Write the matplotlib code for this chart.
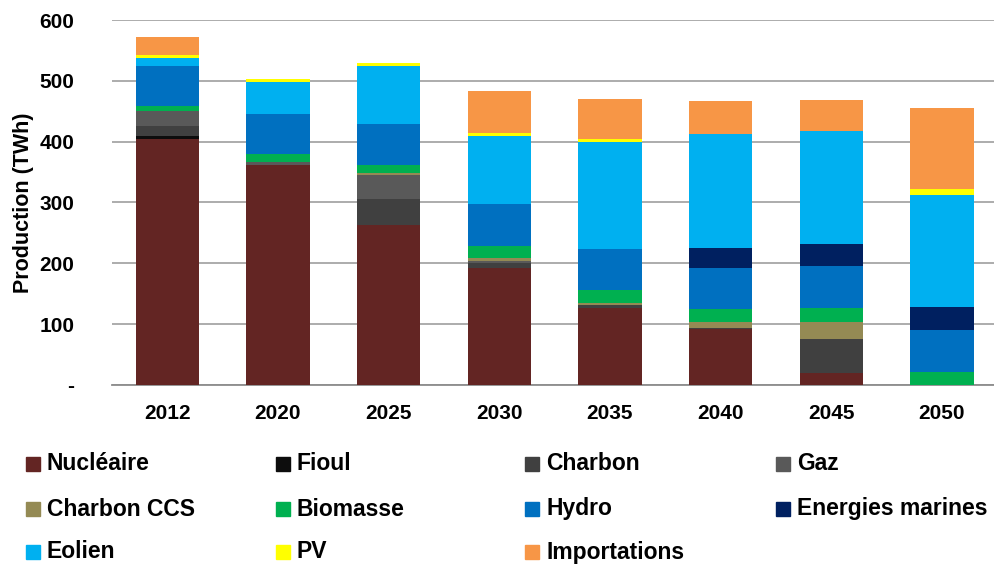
import numpy as np
import matplotlib
matplotlib.use('Agg')
import matplotlib.pyplot as plt
from matplotlib.patches import Rectangle

plt.rcParams['font.family'] = ['Liberation Sans', 'DejaVu Sans']
plt.rcParams['font.weight'] = 'bold'

years = ['2012', '2020', '2025', '2030', '2035', '2040', '2045', '2050']

nucleaire = [405, 361, 263, 193, 127, 92, 19, 0]
fioul = [4, 0, 0, 0, 0, 0, 0, 0]
charbon = [17, 0, 42, 8, 5, 2, 57, 0]
gaz = [25, 6, 40, 3, 0, 0, 0, 0]
charbon_ccs = [0, 0, 3, 4, 3, 10, 27, 0]
biomasse = [7, 13, 13, 21, 21, 21, 24, 22]
hydro = [66, 65, 68, 68, 68, 68, 68, 68]
marines = [0, 0, 0, 0, 0, 33, 37, 38]
eolien = [14, 53, 95, 113, 176, 187, 185, 185]
pv = [4, 5, 6, 5, 5, 0, 0, 9]
importations = [30, 0, 0, 68, 65, 54, 51, 133]

names = ['Nucléaire', 'Fioul', 'Charbon', 'Gaz', 'Charbon CCS', 'Biomasse',
         'Hydro', 'Energies marines', 'Eolien', 'PV', 'Importations']
series = [nucleaire, fioul, charbon, gaz, charbon_ccs, biomasse,
          hydro, marines, eolien, pv, importations]
colors = ['#632523', '#0d0d0d', '#404040', '#595959', '#948a54', '#00b050',
          '#0070c0', '#002060', '#00b0f0', '#ffff00', '#f79646']

yticks = [0, 100, 200, 300, 400, 500, 600]
ytick_labels = ['-', '100', '200', '300', '400', '500', '600']

fig = plt.figure(figsize=(9.94, 5.66), dpi=100)
ax = fig.add_axes([112 / 994, 181 / 566, (994 - 112) / 994, 365 / 566])

x = np.arange(len(years))
bottom = np.zeros(len(years))
for vals, col, name in zip(series, colors, names):
    ax.bar(x, vals, 0.57, bottom=bottom, color=col, label=name, zorder=3)
    bottom += np.array(vals)

ax.set_xlim(-0.5, 7.47)
ax.set_ylim(0, 600)
ax.set_yticks(yticks)
ax.set_yticklabels(ytick_labels)
ax.set_xticks(x)
ax.set_xticklabels(years)
ax.tick_params(axis='y', length=0, pad=27, labelsize=15)
ax.tick_params(axis='x', length=0, pad=14, labelsize=15)
ax.grid(axis='y', color='#a6a6a6', linewidth=1.3, zorder=0)
for s in ['top', 'right', 'left']:
    ax.spines[s].set_visible(False)
ax.spines['bottom'].set_color('#8c8c8c')
ax.spines['bottom'].set_linewidth(1.3)
ax.set_ylabel('Production (TWh)', fontsize=15.5, fontweight='bold', labelpad=4)

# legend laid out as in the original (row-wise, 4 columns)
col_x = [26, 276, 525, 776]
row_y = [464, 509, 552]
for i, (name, col) in enumerate(zip(names, colors)):
    r, c = divmod(i, 4)
    px, py = col_x[c], row_y[r]
    fig.patches.append(Rectangle((px / 994, 1 - (py + 7) / 566), 14 / 994, 14 / 566,
                                 transform=fig.transFigure, color=col))
    fig.text((px + 21) / 994, 1 - py / 566, name, fontsize=16.5, fontweight='bold',
             va='center', ha='left')

fig.savefig('out.png', dpi=100)
